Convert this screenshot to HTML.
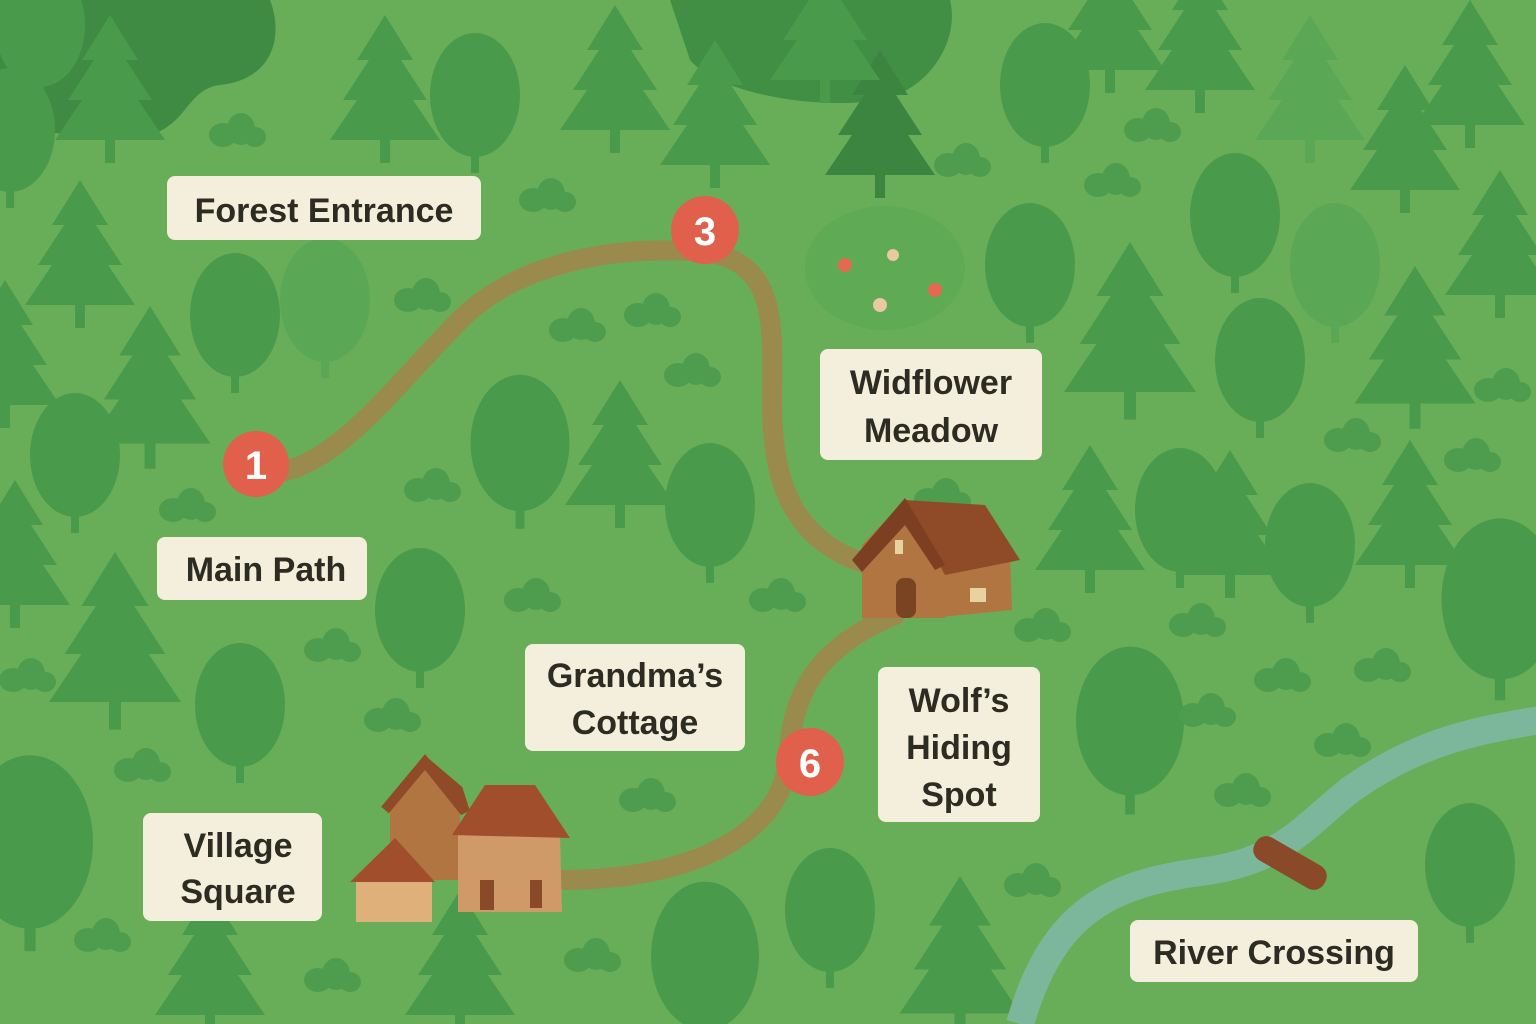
<!DOCTYPE html>
<html><head><meta charset="utf-8"><style>
html,body{margin:0;padding:0;background:#68ae58}
svg{display:block}
text{font-family:"Liberation Sans","DejaVu Sans",sans-serif;font-weight:bold;fill:#2c2c22}
</style></head><body>
<svg width="1536" height="1024" viewBox="0 0 1536 1024" xmlns="http://www.w3.org/2000/svg">
<defs>
<g id="c"><path d="M0,-140 L-28,-95 L-16,-95 L-42,-55 L-28,-55 L-55,-15 L55,-15 L28,-55 L42,-55 L16,-95 L28,-95 Z"/><rect x="-5" y="-20" width="10" height="28"/></g>
<g id="r"><ellipse cx="0" cy="-70" rx="45" ry="62"/><rect x="-4" y="-40" width="8" height="48"/></g>
<g id="b"><ellipse cx="-12" cy="0" rx="14" ry="12"/><ellipse cx="6" cy="-6" rx="14" ry="16"/><ellipse cx="20" cy="2" rx="11" ry="10"/></g>
</defs>
<rect width="1536" height="1024" fill="#68ae58"/>
<path d="M0,0 H270 C285,40 270,80 220,85 C180,90 190,140 120,138 C60,136 30,130 0,120 Z" fill="#3f8b43"/>
<path d="M670,0 H950 C960,40 930,90 880,100 C820,110 720,95 690,60 Z" fill="#418e45"/>
<g fill="#4a9a4c">
<use href="#c" transform="translate(110,155)"/><use href="#c" transform="translate(385,155)"/><use href="#c" transform="translate(615,145)"/>
<use href="#c" transform="translate(715,180)"/><use href="#c" transform="translate(880,190)" fill="#3b8540"/><use href="#c" transform="translate(1110,85)"/>
<use href="#c" transform="translate(1310,155)" fill="#5aa855"/><use href="#c" transform="translate(1405,205)"/><use href="#c" transform="translate(1470,140)"/>
<use href="#c" transform="translate(80,320)"/><use href="#c" transform="translate(150,460) scale(1.1)"/><use href="#c" transform="translate(5,420)"/>
<use href="#c" transform="translate(620,520)"/><use href="#c" transform="translate(1130,410) scale(1.2)"/><use href="#c" transform="translate(1415,420) scale(1.1)"/>
<use href="#c" transform="translate(1500,310)"/><use href="#c" transform="translate(1090,585)"/><use href="#c" transform="translate(1410,580)"/>
<use href="#c" transform="translate(115,720) scale(1.2)"/><use href="#c" transform="translate(15,620)"/><use href="#c" transform="translate(960,1030) scale(1.1)"/>
<use href="#c" transform="translate(210,1030)"/><use href="#c" transform="translate(460,1030)"/><use href="#c" transform="translate(825,95)"/>
<use href="#c" transform="translate(1200,105)"/><use href="#c" transform="translate(1230,590)"/>
<use href="#r" transform="translate(40,95)"/><use href="#r" transform="translate(235,385)"/><use href="#r" transform="translate(325,370)" fill="#5aa855"/>
<use href="#r" transform="translate(75,525)"/><use href="#r" transform="translate(520,520) scale(1.1)"/><use href="#r" transform="translate(710,575)"/>
<use href="#r" transform="translate(420,680)"/><use href="#r" transform="translate(240,775)"/><use href="#r" transform="translate(1030,335)"/>
<use href="#r" transform="translate(1235,285)"/><use href="#r" transform="translate(1260,430)"/><use href="#r" transform="translate(1335,335)" fill="#5aa855"/>
<use href="#r" transform="translate(1180,580)"/><use href="#r" transform="translate(1310,615)"/><use href="#r" transform="translate(1500,690) scale(1.3)"/>
<use href="#r" transform="translate(1130,805) scale(1.2)"/><use href="#r" transform="translate(1470,935)"/><use href="#r" transform="translate(30,940) scale(1.4)"/>
<use href="#r" transform="translate(830,980)"/><use href="#r" transform="translate(705,1040) scale(1.2)"/><use href="#r" transform="translate(1045,155)"/>
<use href="#r" transform="translate(475,165)"/><use href="#r" transform="translate(10,200)"/>
</g>
<g fill="#4e9d4e">
<use href="#b" transform="translate(545,200)"/><use href="#b" transform="translate(235,135)"/><use href="#b" transform="translate(420,300)"/>
<use href="#b" transform="translate(575,330)"/><use href="#b" transform="translate(650,315)"/><use href="#b" transform="translate(690,375)"/>
<use href="#b" transform="translate(430,490)"/><use href="#b" transform="translate(185,510)"/><use href="#b" transform="translate(530,600)"/>
<use href="#b" transform="translate(775,600)"/><use href="#b" transform="translate(330,650)"/><use href="#b" transform="translate(25,680)"/>
<use href="#b" transform="translate(140,770)"/><use href="#b" transform="translate(390,720)"/><use href="#b" transform="translate(645,800)"/>
<use href="#b" transform="translate(100,940)"/><use href="#b" transform="translate(330,980)"/><use href="#b" transform="translate(590,960)"/>
<use href="#b" transform="translate(1110,185)"/><use href="#b" transform="translate(960,165)"/><use href="#b" transform="translate(1150,130)"/>
<use href="#b" transform="translate(1500,390)"/><use href="#b" transform="translate(1350,440)"/><use href="#b" transform="translate(1470,460)"/>
<use href="#b" transform="translate(1195,625)"/><use href="#b" transform="translate(1280,680)"/><use href="#b" transform="translate(1380,670)"/>
<use href="#b" transform="translate(1340,745)"/><use href="#b" transform="translate(1240,795)"/><use href="#b" transform="translate(1040,630)"/>
<use href="#b" transform="translate(1030,885)"/><use href="#b" transform="translate(940,500)"/><use href="#b" transform="translate(1205,715)"/>
</g>
<ellipse cx="885" cy="268" rx="80" ry="62" fill="#5eaa55"/>
<g fill="#e36a50"><circle cx="845" cy="265" r="7"/><circle cx="935" cy="290" r="7"/></g>
<g fill="#e8c9a0"><circle cx="893" cy="255" r="6"/><circle cx="880" cy="305" r="7"/></g>
<path d="M1020,1024 C1050,920 1100,885 1200,872 C1280,862 1300,830 1350,790 C1420,740 1480,730 1540,720" fill="none" stroke="#7cb79c" stroke-width="28"/>
<rect x="1250" y="850" width="80" height="26" rx="12" transform="rotate(30 1290 863)" fill="#8a4a2a"/>
<path d="M280,472 C340,462 400,380 460,320 C520,260 620,245 705,252 C780,262 772,330 772,400 C772,470 785,540 870,565" fill="none" stroke="#9a8a4c" stroke-width="20" stroke-linecap="round"/>
<path d="M895,615 C810,650 792,700 788,760 C782,830 700,880 560,880" fill="none" stroke="#9a8a4c" stroke-width="20" stroke-linecap="round"/>
<!-- cottage -->
<path d="M862,545 L905,500 L945,555 L945,618 L862,618 Z" fill="#b07540"/>
<path d="M930,555 L1010,555 L1012,610 L930,618 Z" fill="#b07540"/>
<path d="M905,500 L985,505 L1020,560 L945,575 Z" fill="#8f4a28"/>
<path d="M852,560 L905,498 L945,565 L935,570 L905,525 L862,572 Z" fill="#7c3f22"/>
<rect x="896" y="578" width="20" height="40" rx="8" fill="#7a4422"/>
<rect x="895" y="540" width="8" height="14" fill="#e6d3a0"/><rect x="970" y="588" width="16" height="14" fill="#e6d3a0"/>
<!-- village -->
<path d="M390,810 L425,765 L460,810 L460,880 L390,880 Z" fill="#b07540"/>
<path d="M385,810 L425,762 L465,812 L458,790 L425,762 Z" fill="#8f4a28" stroke="#8f4a28" stroke-width="10"/>
<path d="M458,835 L505,790 L560,835 L562,912 L458,912 Z" fill="#d09a68"/>
<path d="M452,835 L485,785 L535,785 L570,838 Z" fill="#a04e2c"/>
<path d="M356,880 L395,845 L432,880 L432,922 L356,922 Z" fill="#e0b07a"/>
<path d="M350,882 L395,838 L435,882 Z" fill="#a04e2c"/>
<rect x="480" y="880" width="14" height="30" fill="#8a4a2a"/><rect x="530" y="880" width="12" height="28" fill="#8a4a2a"/>
<g font-size="34">
<rect x="167" y="176" width="314" height="64" rx="8" fill="#f3efdc"/><text x="324" y="222" text-anchor="middle">Forest Entrance</text>
<rect x="820" y="349" width="222" height="111" rx="8" fill="#f3efdc"/><text x="931" y="394" text-anchor="middle">Widflower</text><text x="931" y="442" text-anchor="middle">Meadow</text>
<rect x="157" y="537" width="210" height="63" rx="8" fill="#f3efdc"/><text x="266" y="581" text-anchor="middle">Main Path</text>
<rect x="525" y="644" width="220" height="107" rx="8" fill="#f3efdc"/><text x="635" y="687" text-anchor="middle">Grandma’s</text><text x="635" y="734" text-anchor="middle">Cottage</text>
<rect x="878" y="667" width="162" height="155" rx="8" fill="#f3efdc"/><text x="959" y="712" text-anchor="middle">Wolf’s</text><text x="959" y="759" text-anchor="middle">Hiding</text><text x="959" y="806" text-anchor="middle">Spot</text>
<rect x="143" y="813" width="179" height="108" rx="8" fill="#f3efdc"/><text x="238" y="857" text-anchor="middle">Village</text><text x="238" y="903" text-anchor="middle">Square</text>
<rect x="1130" y="920" width="288" height="62" rx="8" fill="#f3efdc"/><text x="1274" y="964" text-anchor="middle">River Crossing</text>
</g>
<g font-size="40">
<circle cx="256" cy="464" r="33" fill="#e0604c"/><text x="256" y="479" text-anchor="middle" style="fill:#fff">1</text>
<circle cx="705" cy="230" r="34" fill="#e0604c"/><text x="705" y="245" text-anchor="middle" style="fill:#fff">3</text>
<circle cx="810" cy="762" r="34" fill="#e0604c"/><text x="810" y="777" text-anchor="middle" style="fill:#fff">6</text>
</g>
</svg>
</body></html>
